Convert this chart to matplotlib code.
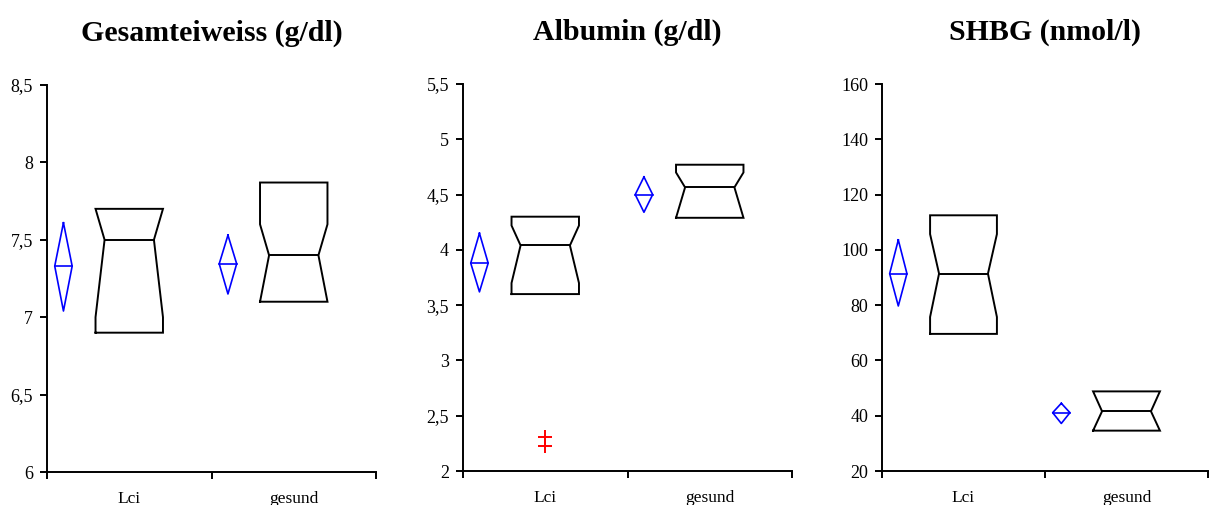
import numpy as np
import matplotlib
matplotlib.use("Agg")
import matplotlib.pyplot as plt
from matplotlib.ticker import FuncFormatter

plt.rcParams['font.family'] = ['Liberation Serif', 'DejaVu Serif']

groups = ['Lci', 'gesund']
titles = ['Gesamteiweiss (g/dl)', 'Albumin (g/dl)', 'SHBG (nmol/l)']

# box: lower quartile, median, upper quartile, notch low, notch high
q1 = [[6.9, 7.1], [3.6, 4.29], [69.6, 34.6]]
med = [[7.5, 7.4], [4.04, 4.565], [91.4, 41.6]]
q3 = [[7.7, 7.87], [4.3, 4.77], [112.5, 48.8]]
notch_lo = [[7.0, 7.1], [3.70, 4.29], [75.7, 34.6]]
notch_hi = [[7.7, 7.6], [4.22, 4.70], [105.7, 48.8]]

# mean diamonds: mean and confidence limits
means = [[7.33, 7.345], [3.88, 4.50], [91.4, 41.1]]
ci_lo = [[7.04, 7.15], [3.62, 4.34], [79.7, 37.2]]
ci_hi = [[7.61, 7.53], [4.15, 4.66], [103.6, 44.5]]

# outliers (panel index, group index, value)
outliers = [(1, 0, 2.31), (1, 0, 2.23)]

ylims = [(6, 8.5), (2, 5.5), (20, 160)]
ysteps = [0.5, 0.5, 20]

axes_px = [(47, 376, 85, 472), (463, 792, 84, 471), (882, 1208, 84, 471)]

W, H = 1209, 505
fig = plt.figure(figsize=(W / 100, H / 100), dpi=100)


def comma(v, pos):
    s = ('%g' % v)
    return s.replace('.', ',')


for p in range(3):
    l, r, t, b = axes_px[p]
    ax = fig.add_axes([l / W, 1 - b / H, (r - l) / W, (b - t) / H])

    for g in range(2):
        xc = g + 0.5
        w = 0.205
        ins = 0.055
        nl = max(notch_lo[p][g], q1[p][g])
        nu = min(notch_hi[p][g], q3[p][g])
        xs = [xc - w, xc - w, xc - w + ins, xc - w, xc - w,
              xc + w, xc + w, xc + w - ins, xc + w, xc + w, xc - w]
        ys = [q1[p][g], nl, med[p][g], nu, q3[p][g],
              q3[p][g], nu, med[p][g], nl, q1[p][g], q1[p][g]]
        ax.plot(xs, ys, color='black', lw=1.4, solid_joinstyle='miter')
        ax.plot([xc - w + ins, xc + w - ins], [med[p][g]] * 2, color='black', lw=1.4)

        # mean diamond
        xd = xc - 0.40
        dw = 0.053
        ax.plot([xd, xd - dw, xd, xd + dw, xd],
                [ci_hi[p][g], means[p][g], ci_lo[p][g], means[p][g], ci_hi[p][g]],
                color='blue', lw=1.2)
        ax.plot([xd - dw, xd + dw], [means[p][g]] * 2, color='blue', lw=1.2)

    for (pi, gi, v) in outliers:
        if pi == p:
            ax.plot(gi + 0.5, v, marker='+', color='red', ms=10, mew=1.4, ls='none')

    ax.set_xlim(0, 2)
    ax.set_ylim(*ylims[p])
    lo, hi = ylims[p]
    ax.set_yticks(np.arange(lo, hi + ysteps[p] / 2, ysteps[p]))
    ax.yaxis.set_major_formatter(FuncFormatter(comma))
    ax.set_xticks([0, 1, 2])
    ax.set_xticklabels([])
    ax.set_xticks([0.5, 1.5], minor=True)
    ax.set_xticklabels(groups, minor=True)
    ax.tick_params(axis='x', which='minor', length=0, pad=13.5, labelsize=12.5)
    ax.tick_params(axis='x', which='major', length=5, width=1.4, direction='out')
    ax.tick_params(axis='y', length=5, width=1.4, direction='out', labelsize=13, pad=5)

    ax.spines['top'].set_visible(False)
    ax.spines['right'].set_visible(False)
    ax.spines['left'].set_linewidth(1.4)
    ax.spines['bottom'].set_linewidth(1.4)

    ax.set_title(titles[p], fontsize=21.5, fontweight='bold', pad=32)

fig.savefig('out.png', dpi=100)
